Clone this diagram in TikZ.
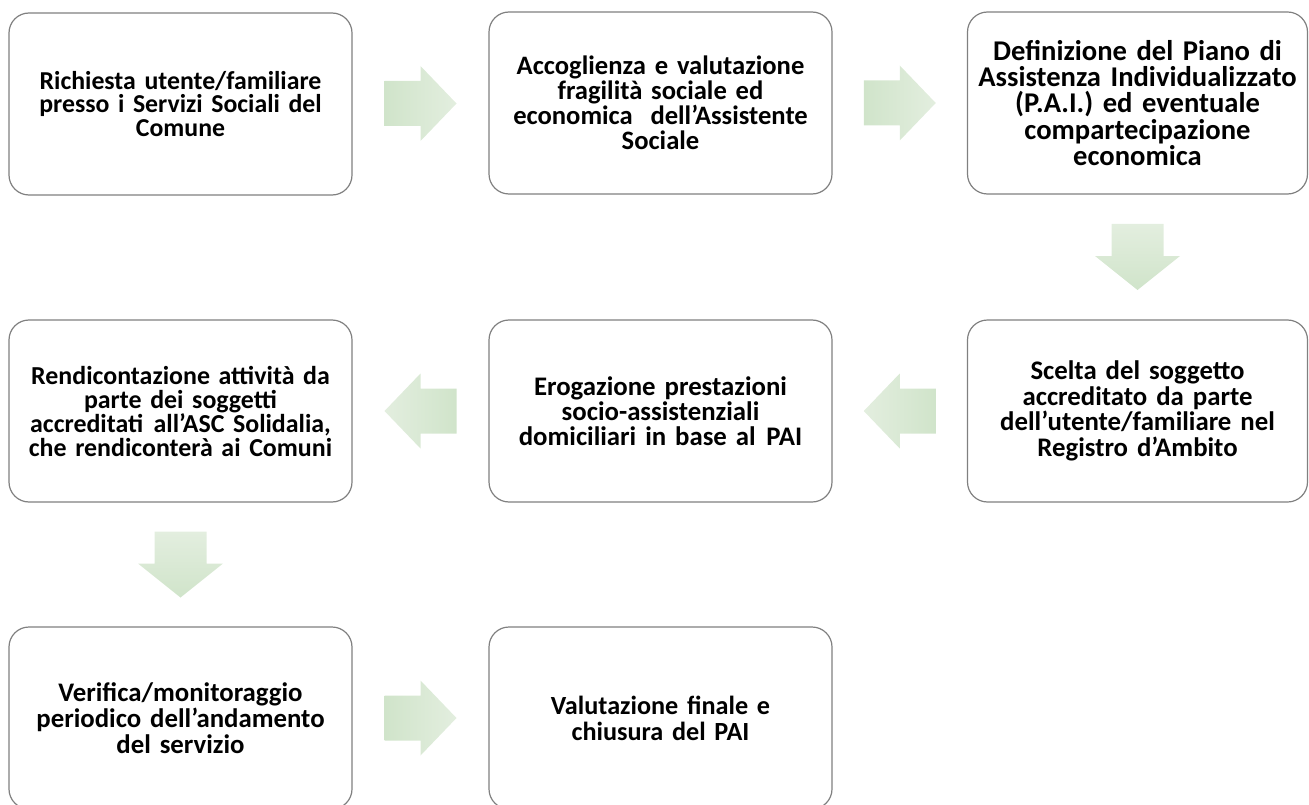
\documentclass[tikz,border=0pt]{standalone}
\usepackage{fontspec}
\setmainfont[WordSpace=0.5]{Carlito}
\usetikzlibrary{calc}
\definecolor{boxline}{HTML}{808080}
\definecolor{arrdark}{HTML}{D0E4CA}
\definecolor{arrlight}{HTML}{E3EEDF}
\newcommand\fsz[2]{\fontsize{#1}{#2}\selectfont\bfseries}
\tikzset{
  stepbox/.style={draw=boxline, line width=1.2pt, rounded corners=20pt, fill=white,
    minimum width=343pt, minimum height=182pt, inner sep=0pt, text width=340pt,
    align=center, font=\fsz{26.5}{25}, text=black},
  arrH/.style={left color=arrdark, right color=arrlight},
  arrHL/.style={left color=arrlight, right color=arrdark},
  arrV/.style={top color=arrlight, bottom color=arrdark},
}
\newcommand\blockR[2]{\shade[arrH, shift={($(#1.east)!0.5!(#2.west)$)}]
  (-36,-22.5) -- (0,-22.5) -- (0,-37.5) -- (36,0) -- (0,37.5) -- (0,22.5) -- (-36,22.5) -- cycle;}
\newcommand\blockL[2]{\shade[arrHL, shift={($(#1.west)!0.5!(#2.east)$)}]
  (36,-22.5) -- (0,-22.5) -- (0,-37.5) -- (-36,0) -- (0,37.5) -- (0,22.5) -- (36,22.5) -- cycle;}
\newcommand\blockD[2]{\shade[arrV, shift={($(#1.south)!0.5!(#2.north)$)}]
  (-26,-33) -- (26,-33) -- (26,-1) -- (42.5,-1) -- (0,33) -- (-42.5,-1) -- (-26,-1) -- cycle;}
\begin{document}
\begin{tikzpicture}[x=1pt, y=-1pt]
\useasboundingbox (0,0) rectangle (1309,805);
\node[stepbox, font=\fsz{25.8}{23.5}] (b1) at (180.5,104) {Richiesta utente/familiare\\presso i Servizi Sociali del\\Comune};
\node[stepbox, font=\fsz{26.6}{25}] (b2) at (660.5,103) {Accoglienza e valutazione\\fragilità sociale ed\\economica~ dell’Assistente\\Sociale};
\node[stepbox, minimum width=339pt, font=\fsz{28.6}{26.3}] (b3) at (1137.5,103) {Definizione del Piano di\\Assistenza Individualizzato\\(P.A.I.) ed eventuale\\compartecipazione\\economica};
\node[stepbox, minimum width=339pt, font=\fsz{26.8}{25.5}] (b4) at (1137.5,411) {Scelta del soggetto\\accreditato da parte\\dell’utente/familiare nel\\Registro d’Ambito};
\node[stepbox, font=\fsz{26.8}{25}] (b5) at (660.5,411) {Erogazione prestazioni\\socio-assistenziali\\domiciliari in base al\hspace{0.4em}PAI};
\node[stepbox, font=\fsz{25.9}{24}] (b6) at (180.5,411) {Rendicontazione attività da\\parte dei soggetti\\accreditati\hspace{0.4em}all’ASC Solidalia,\\che rendiconterà ai Comuni};
\node[stepbox, font=\fsz{26.8}{25.7}] (b7) at (180.5,718) {Verifica/monitoraggio\\periodico dell’andamento\\del servizio};
\node[stepbox, font=\fsz{26.2}{26}] (b8) at (660.5,718) {Valutazione finale e\\chiusura del PAI};
\blockR{b1}{b2}
\blockR{b2}{b3}
\blockD{b3}{b4}
\blockL{b4}{b5}
\blockL{b5}{b6}
\blockD{b6}{b7}
\blockR{b7}{b8}
\end{tikzpicture}
\end{document}
